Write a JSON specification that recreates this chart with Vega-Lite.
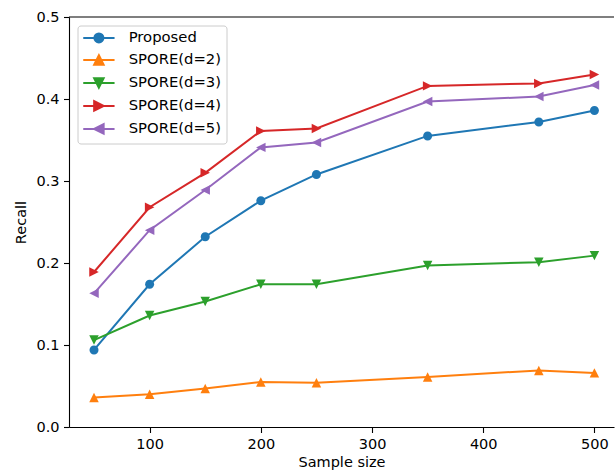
{
  "$schema": "https://vega.github.io/schema/vega-lite/v6.json",
  "width": 545,
  "height": 410,
  "autosize": {"type": "none"},
  "padding": {"left": 69, "top": 17, "right": 1, "bottom": 46},
  "background": "white",
  "config": {
    "font": "DejaVu Sans",
    "view": {"stroke": null},
    "axis": {
      "grid": false, "domainColor": "#000000", "domainWidth": 1.1, "tickColor": "#000000", "tickWidth": 1.1,
      "tickSize": 5.5, "labelPadding": 4.5, "labelColor": "#000000", "titleColor": "#000000",
      "labelFontSize": 14.5, "titleFontSize": 14.5, "titleFontWeight": "normal", "labelFont": "DejaVu Sans", "titleFont": "DejaVu Sans"
    }
  },
  "data": {"values": [
    {"n": 50, "series": "Proposed", "recall": 0.094},
    {"n": 100, "series": "Proposed", "recall": 0.174},
    {"n": 150, "series": "Proposed", "recall": 0.232},
    {"n": 200, "series": "Proposed", "recall": 0.276},
    {"n": 250, "series": "Proposed", "recall": 0.308},
    {"n": 350, "series": "Proposed", "recall": 0.355},
    {"n": 450, "series": "Proposed", "recall": 0.372},
    {"n": 500, "series": "Proposed", "recall": 0.386},
    {"n": 50, "series": "SPORE(d=2)", "recall": 0.036},
    {"n": 100, "series": "SPORE(d=2)", "recall": 0.040},
    {"n": 150, "series": "SPORE(d=2)", "recall": 0.047},
    {"n": 200, "series": "SPORE(d=2)", "recall": 0.055},
    {"n": 250, "series": "SPORE(d=2)", "recall": 0.054},
    {"n": 350, "series": "SPORE(d=2)", "recall": 0.061},
    {"n": 450, "series": "SPORE(d=2)", "recall": 0.069},
    {"n": 500, "series": "SPORE(d=2)", "recall": 0.066},
    {"n": 50, "series": "SPORE(d=3)", "recall": 0.106},
    {"n": 100, "series": "SPORE(d=3)", "recall": 0.136},
    {"n": 150, "series": "SPORE(d=3)", "recall": 0.153},
    {"n": 200, "series": "SPORE(d=3)", "recall": 0.174},
    {"n": 250, "series": "SPORE(d=3)", "recall": 0.174},
    {"n": 350, "series": "SPORE(d=3)", "recall": 0.197},
    {"n": 450, "series": "SPORE(d=3)", "recall": 0.201},
    {"n": 500, "series": "SPORE(d=3)", "recall": 0.209},
    {"n": 50, "series": "SPORE(d=4)", "recall": 0.189},
    {"n": 100, "series": "SPORE(d=4)", "recall": 0.268},
    {"n": 150, "series": "SPORE(d=4)", "recall": 0.310},
    {"n": 200, "series": "SPORE(d=4)", "recall": 0.361},
    {"n": 250, "series": "SPORE(d=4)", "recall": 0.364},
    {"n": 350, "series": "SPORE(d=4)", "recall": 0.416},
    {"n": 450, "series": "SPORE(d=4)", "recall": 0.419},
    {"n": 500, "series": "SPORE(d=4)", "recall": 0.430},
    {"n": 50, "series": "SPORE(d=5)", "recall": 0.163},
    {"n": 100, "series": "SPORE(d=5)", "recall": 0.240},
    {"n": 150, "series": "SPORE(d=5)", "recall": 0.289},
    {"n": 200, "series": "SPORE(d=5)", "recall": 0.341},
    {"n": 250, "series": "SPORE(d=5)", "recall": 0.347},
    {"n": 350, "series": "SPORE(d=5)", "recall": 0.397},
    {"n": 450, "series": "SPORE(d=5)", "recall": 0.403},
    {"n": 500, "series": "SPORE(d=5)", "recall": 0.417}
  ]},
  "encoding": {
    "x": {"field": "n", "type": "quantitative", "title": "Sample size",
      "scale": {"domain": [27.5, 517.6], "nice": false, "zero": false},
      "axis": {"values": [100, 200, 300, 400, 500], "format": "d", "labelFlush": false, "titlePadding": 5}},
    "y": {"field": "recall", "type": "quantitative", "title": "Recall",
      "scale": {"domain": [0, 0.5], "nice": false},
      "axis": {"values": [0, 0.1, 0.2, 0.3, 0.4, 0.5], "format": ".1f", "titlePadding": 7}}
  },
  "layer": [
    {
      "data": {"values": [{"top": 0.5}]},
      "mark": {"type": "rule", "color": "#000000", "strokeWidth": 1.1},
      "encoding": {"x": null, "y": {"field": "top", "type": "quantitative"}}
    },
    {
      "mark": {"type": "line", "strokeWidth": 2},
      "encoding": {
        "color": {"field": "series", "type": "nominal",
          "scale": {"domain": ["Proposed", "SPORE(d=2)", "SPORE(d=3)", "SPORE(d=4)", "SPORE(d=5)"],
                    "range": ["#1f77b4", "#ff7f0e", "#2ca02c", "#d62728", "#9467bd"]},
          "legend": {
            "title": null, "orient": "none", "legendX": 8.5, "legendY": 8.5,
            "symbolSize": 90, "symbolOffset": 9, "labelOffset": 22.4, "rowPadding": 4, "padding": 5,
            "labelFontSize": 14.8, "labelFont": "DejaVu Sans", "labelColor": "#000000",
            "fillColor": "white", "strokeColor": "#cccccc", "cornerRadius": 3,
            "encode": {"symbols": {"update": {
              "shape": {"signal": "datum.value == 'Proposed' ? 'M-3.3,0H3.3M0.95,0A0.95,0.95 0 1,1 -0.95,0A0.95,0.95 0 1,1 0.95,0Z' : datum.value == 'SPORE(d=2)' ? 'M-3.3,0H3.3M0,-1L1,1L-1,1Z' : datum.value == 'SPORE(d=3)' ? 'M-3.3,0H3.3M0,1L1,-1L-1,-1Z' : datum.value == 'SPORE(d=4)' ? 'M-3.3,0H3.3M1,0L-1,-1L-1,1Z' : 'M-3.3,0H3.3M-1,0L1,-1L1,1Z'"},
              "strokeWidth": {"value": 2},
              "opacity": {"value": 1}
            }}}
          }}
      }
    },
    {
      "mark": {"type": "point", "filled": true, "opacity": 1, "size": 90},
      "encoding": {
        "color": {"field": "series", "type": "nominal",
          "legend": {
            "title": null, "orient": "none", "legendX": 8.5, "legendY": 8.5,
            "symbolSize": 90, "symbolOffset": 9, "labelOffset": 22.4, "rowPadding": 4, "padding": 5,
            "labelFontSize": 14.8, "labelFont": "DejaVu Sans", "labelColor": "#000000",
            "fillColor": "white", "strokeColor": "#cccccc", "cornerRadius": 3,
            "encode": {"symbols": {"update": {
              "shape": {"signal": "datum.value == 'Proposed' ? 'M-3.3,0H3.3M0.95,0A0.95,0.95 0 1,1 -0.95,0A0.95,0.95 0 1,1 0.95,0Z' : datum.value == 'SPORE(d=2)' ? 'M-3.3,0H3.3M0,-1L1,1L-1,1Z' : datum.value == 'SPORE(d=3)' ? 'M-3.3,0H3.3M0,1L1,-1L-1,-1Z' : datum.value == 'SPORE(d=4)' ? 'M-3.3,0H3.3M1,0L-1,-1L-1,1Z' : 'M-3.3,0H3.3M-1,0L1,-1L1,1Z'"},
              "strokeWidth": {"value": 2},
              "opacity": {"value": 1}
            }}}
          }},
        "shape": {"field": "series", "type": "nominal",
          "scale": {"range": ["M0.95,0A0.95,0.95 0 1,1 -0.95,0A0.95,0.95 0 1,1 0.95,0Z", "M0,-1L1,1L-1,1Z", "M0,1L1,-1L-1,-1Z", "M1,0L-1,-1L-1,1Z", "M-1,0L1,-1L1,1Z"]},
          "legend": null}
      }
    }
  ]
}
